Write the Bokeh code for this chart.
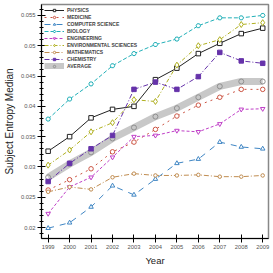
from bokeh.plotting import figure
from bokeh.models import FixedTicker, Range1d, Legend, LegendItem
from bokeh.embed import file_html
from bokeh.resources import INLINE

years = [1999, 2000, 2001, 2002, 2003, 2004, 2005, 2006, 2007, 2008, 2009]

physics = [0.0326, 0.0350, 0.0381, 0.0395, 0.0400, 0.0444, 0.0463, 0.0487, 0.0504, 0.0520, 0.0529]
medicine = [0.0262, 0.0279, 0.0297, 0.0325, 0.0341, 0.0362, 0.0384, 0.0402, 0.0415, 0.0428, 0.0428]
computer_science = [0.0199, 0.0208, 0.0234, 0.0269, 0.0254, 0.0280, 0.0306, 0.0313, 0.0341, 0.0333, 0.0330]
biology = [0.0379, 0.0412, 0.0437, 0.0467, 0.0487, 0.0502, 0.0511, 0.0533, 0.0546, 0.0546, 0.0550]
engineering = [0.0223, 0.0267, 0.0283, 0.0316, 0.0350, 0.0352, 0.0360, 0.0358, 0.0371, 0.0395, 0.0396]
environmental = [0.0303, 0.0328, 0.0358, 0.0373, 0.0411, 0.0408, 0.0468, 0.0500, 0.0510, 0.0535, 0.0538]
mathematics = [0.0259, 0.0267, 0.0263, 0.0283, 0.0289, 0.0286, 0.0286, 0.0287, 0.0284, 0.0284, 0.0286]
chemistry = [0.0276, 0.0306, 0.0330, 0.0352, 0.0428, 0.0440, 0.0428, 0.0449, 0.0489, 0.0475, 0.0471]
average = [0.0283, 0.0305, 0.0324, 0.0347, 0.0365, 0.0383, 0.0397, 0.0415, 0.0433, 0.0441, 0.0441]

ytick_values = [0.02, 0.025, 0.03, 0.035, 0.04, 0.045, 0.05, 0.055]
ytick_labels = ["0.02", "0.025", "0.03", "0.035", "0.04", "0.045", "0.05", "0.055"]
yminor_values = [round(0.019 + 0.001 * i, 3) for i in range(38)]

p = figure(width=270, height=268, output_backend="svg", toolbar_location=None,
           x_range=Range1d(1998.69, 2009.27), y_range=Range1d(0.0182, 0.0568),
           min_border_left=32, min_border_right=2, min_border_top=4, min_border_bottom=2)
p.background_fill_color = "white"
p.border_fill_color = "white"
p.outline_line_color = "#888888"
p.outline_line_width = 1.5
p.xgrid.visible = False
p.ygrid.visible = False

FONT = "Liberation Sans"

# Average (drawn first, underneath)
r_avg_line = p.line(years, average, line_color="#c8c8c8", line_width=7)
r_avg_pts = p.scatter(years, average, marker="circle", size=5, fill_color=None,
                      line_color="#909090", line_width=1)

series = [
    ("PHYSICS", physics, "#222222", "solid", "square", None),
    ("MEDICINE", medicine, "#cc5544", "dotted", "circle", None),
    ("COMPUTER SCIENCE", computer_science, "#3f86c4", "dashed", "triangle", None),
    ("BIOLOGY", biology, "#22b0b8", "4 2", "hex", None),
    ("ENGINEERING", engineering, "#c040c8", "3 2", "inverted_triangle", None),
    ("ENVIRONMENTAL SCIENCES", environmental, "#b0b020", "4 2 1 2", "diamond", None),
    ("MATHEMATICS", mathematics, "#c08c50", "5 2 1 2", "circle", None),
    ("CHEMISTRY", chemistry, "#6633aa", "5 2 1 2", "square", "#6633aa"),
]

items = []
for name, vals, color, dash, marker, fill in series:
    rl = p.line(years, vals, line_color=color, line_width=1, line_dash=dash)
    msize = 4.5
    if marker == "diamond":
        msize = 6
    if marker == "circle" and name == "MATHEMATICS":
        msize = 3.5
    rs = p.scatter(years, vals, marker=marker, size=msize, fill_color=fill if fill else "white",
                   line_color=color, line_width=1)
    items.append(LegendItem(label=name, renderers=[rl, rs]))
items.append(LegendItem(label="AVERAGE", renderers=[r_avg_line, r_avg_pts]))

legend = Legend(items=items, location="top_left")
legend.label_text_font = FONT
legend.label_text_font_size = "5px"
legend.label_text_font_style = "bold"
legend.label_height = 6
legend.glyph_height = 6
legend.glyph_width = 20
legend.spacing = 1
legend.padding = 2
legend.margin = 3
legend.label_standoff = 3
legend.border_line_color = None
legend.background_fill_alpha = 0
p.add_layout(legend)

# Axes
p.xaxis.ticker = FixedTicker(ticks=years)
p.yaxis.ticker = FixedTicker(ticks=ytick_values, minor_ticks=yminor_values)
p.yaxis.major_label_overrides = dict(zip(ytick_values, ytick_labels))

for ax in (p.xaxis[0], p.yaxis[0]):
    ax.axis_line_color = "black"
    ax.axis_line_width = 1
    ax.major_tick_in = 4
    ax.major_tick_out = 4
    ax.major_tick_line_color = "black"
    ax.major_label_text_font = FONT
    ax.major_label_text_font_size = "5.8px"
    ax.major_label_text_color = "#555555"
    ax.major_label_standoff = 2
    ax.axis_label_text_font = FONT
    ax.axis_label_text_font_style = "normal"
    ax.axis_label_text_color = "#222222"
    ax.axis_label_standoff = 3

p.xaxis.minor_tick_line_color = None
p.yaxis.minor_tick_in = 2
p.yaxis.minor_tick_out = 2
p.yaxis.minor_tick_line_color = "black"
p.xaxis.axis_label = "Year"
p.xaxis.axis_label_text_font_size = "9.5px"
p.yaxis.axis_label = "Subject Entropy Median"
p.yaxis.axis_label_text_font_size = "10px"

open("out.html", "w").write(file_html(p, INLINE))
